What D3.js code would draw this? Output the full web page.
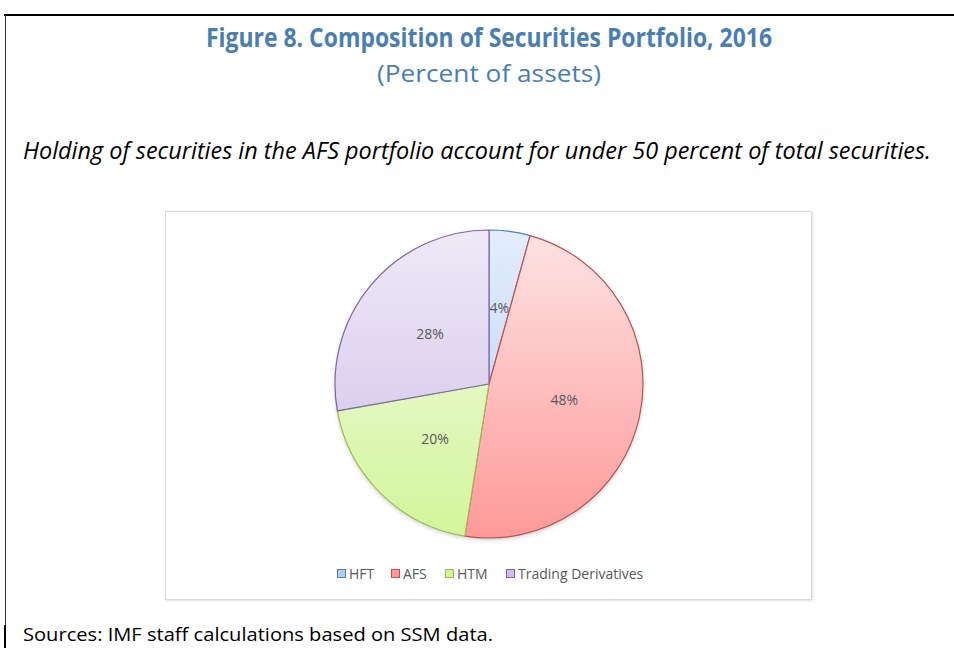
<!DOCTYPE html>
<html>
<head>
<meta charset="utf-8">
<style>
  body { margin: 0; background: #fff; }
  svg { display: block; }
</style>
</head>
<body>
<div id="chart"></div>
<script src="https://cdn.jsdelivr.net/npm/d3@7"></script>
<script>
// data
var categories = ["HFT", "AFS", "HTM", "Trading Derivatives"];
var shares = [4.3, 48.2, 19.7, 27.8];
var labels = ["4%", "48%", "20%", "28%"];
var strokeColors = ["#4f81bd", "#c0504d", "#9bbb59", "#8064a2"];
var topColors = ["#e3edfc", "#fde4e4", "#f3faea", "#efe9f7"];
var bottomColors = ["#b4cdf3", "#ff9999", "#d3f59a", "#cdbfe8"];

var W = 954, H = 648;
var svg = d3.select("#chart").append("svg")
  .attr("width", W)
  .attr("height", H);

// page frame
svg.append("line").attr("x1", 4).attr("x2", W).attr("y1", 15).attr("y2", 15)
  .attr("stroke", "#000").attr("stroke-width", 2.2);
svg.append("line").attr("x1", 5.5).attr("x2", 5.5).attr("y1", 15).attr("y2", 625)
  .attr("stroke", "#333").attr("stroke-width", 1);
svg.append("line").attr("x1", 5).attr("x2", 5).attr("y1", 625).attr("y2", H)
  .attr("stroke", "#000").attr("stroke-width", 2);

// titles
svg.append("text").attr("x", 489).attr("y", 47)
  .attr("text-anchor", "middle")
  .attr("font-family", "'Open Sans', sans-serif")
  .attr("font-weight", "bold").attr("font-size", 27)
  .attr("fill", "#4a7eb0")
  .attr("textLength", 566).attr("lengthAdjust", "spacingAndGlyphs")
  .text("Figure 8. Composition of Securities Portfolio, 2016");
svg.append("text").attr("x", 489).attr("y", 82)
  .attr("text-anchor", "middle")
  .attr("font-family", "'Open Sans', sans-serif")
  .attr("font-size", 24)
  .attr("fill", "#4a7eb0")
  .attr("textLength", 224).attr("lengthAdjust", "spacingAndGlyphs")
  .text("(Percent of assets)");

svg.append("text").attr("x", 23).attr("y", 159)
  .attr("font-family", "'Open Sans', sans-serif")
  .attr("font-style", "italic").attr("font-size", 23)
  .attr("fill", "#000")
  .attr("textLength", 908).attr("lengthAdjust", "spacingAndGlyphs")
  .text("Holding of securities in the AFS portfolio account for under 50 percent of total securities.");

svg.append("text").attr("x", 23).attr("y", 641)
  .attr("font-family", "'Open Sans', sans-serif")
  .attr("font-size", 19)
  .attr("fill", "#000")
  .attr("textLength", 470).attr("lengthAdjust", "spacingAndGlyphs")
  .text("Sources: IMF staff calculations based on SSM data.");

// chart box
var defs = svg.append("defs");
var sh = defs.append("filter").attr("id", "boxshadow")
  .attr("x", "-5%").attr("y", "-5%").attr("width", "110%").attr("height", "110%");
sh.append("feDropShadow").attr("dx", 1).attr("dy", 1).attr("stdDeviation", 1)
  .attr("flood-color", "#000").attr("flood-opacity", 0.12);
svg.append("rect").attr("x", 165.5).attr("y", 211.5).attr("width", 646).attr("height", 388)
  .attr("fill", "#fff").attr("stroke", "#d9d9d9").attr("stroke-width", 1)
  .attr("filter", "url(#boxshadow)");

// pie
var cx = 489, cy = 384, r = 154;
categories.forEach(function(c, i) {
  var g = defs.append("linearGradient").attr("id", "grad" + i)
    .attr("gradientUnits", "userSpaceOnUse")
    .attr("x1", 0).attr("x2", 0).attr("y1", -r).attr("y2", r);
  g.append("stop").attr("offset", "0%").attr("stop-color", topColors[i]);
  g.append("stop").attr("offset", "100%").attr("stop-color", bottomColors[i]);
});

var pieShadow = defs.append("filter").attr("id", "pieshadow")
  .attr("x", "-10%").attr("y", "-10%").attr("width", "120%").attr("height", "120%");
pieShadow.append("feDropShadow").attr("dx", 0).attr("dy", 2).attr("stdDeviation", 2)
  .attr("flood-color", "#000").attr("flood-opacity", 0.2);

var pie = d3.pie().sort(null).value(function(d) { return d; });
var arcs = pie(shares);
var arc = d3.arc().innerRadius(0).outerRadius(r);
var labelArc = d3.arc().innerRadius(r * 0.5).outerRadius(r * 0.5);

var pg = svg.append("g").attr("transform", "translate(" + cx + "," + cy + ")");
pg.append("circle").attr("r", r).attr("fill", "#fff").attr("filter", "url(#pieshadow)");
pg.selectAll(".slice").data(arcs).enter().append("path")
  .attr("class", "slice")
  .attr("d", arc)
  .attr("fill", function(d, i) { return "url(#grad" + i + ")"; })
  .attr("stroke", function(d, i) { return strokeColors[i]; })
  .attr("stroke-width", 1.2)
  .attr("stroke-linejoin", "round");

pg.selectAll(".lbl").data(arcs).enter().append("text")
  .attr("class", "lbl")
  .attr("transform", function(d) { return "translate(" + labelArc.centroid(d) + ")"; })
  .attr("text-anchor", "middle").attr("dy", "0.35em")
  .attr("font-family", "'Open Sans', sans-serif").attr("font-size", 14)
  .attr("fill", "#595959")
  .text(function(d, i) { return labels[i]; });

// legend
var legX = [337, 391, 445, 506];
var leg = svg.selectAll(".leg").data(categories).enter().append("g")
  .attr("class", "leg")
  .attr("transform", function(d, i) { return "translate(" + legX[i] + ",574)"; });
leg.append("rect").attr("x", 0.5).attr("y", -4.5).attr("width", 8).attr("height", 8)
  .attr("fill", function(d, i) { return bottomColors[i]; })
  .attr("stroke", function(d, i) { return strokeColors[i]; });
leg.append("text").attr("x", 12).attr("y", 0).attr("dy", "0.35em")
  .attr("font-family", "'Open Sans', sans-serif").attr("font-size", 14)
  .attr("fill", "#595959")
  .text(function(d) { return d; });
</script>
</body>
</html>
